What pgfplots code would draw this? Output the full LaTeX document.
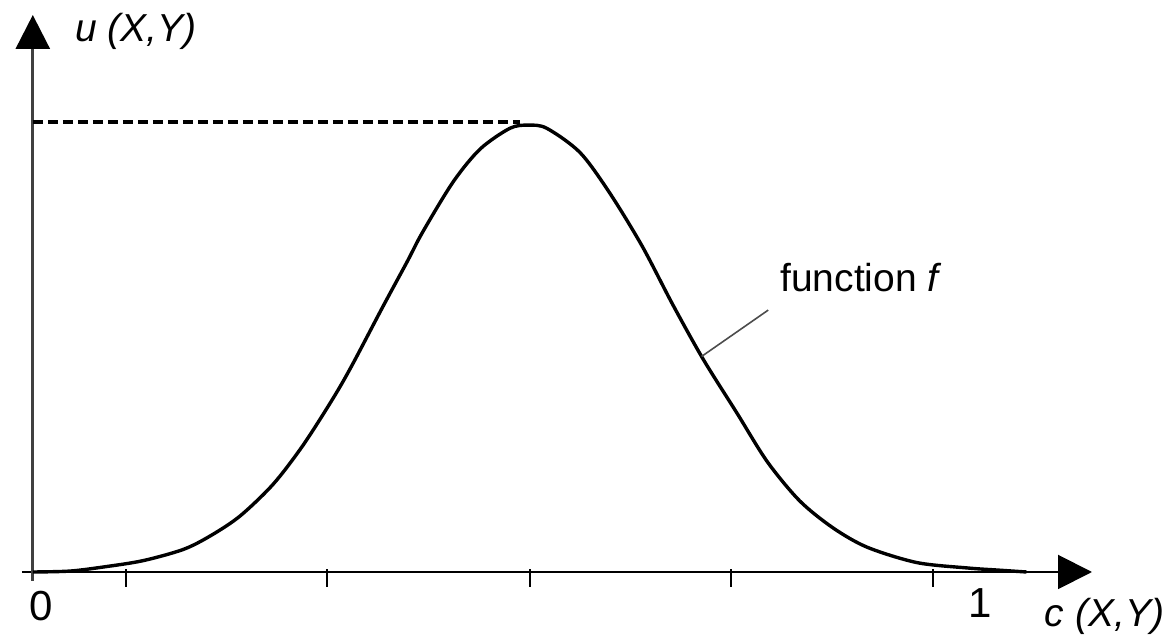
\documentclass[border=0pt]{standalone}
\usepackage{fontspec}
\setmainfont{Liberation Sans}
\usepackage{pgfplots}
\pgfplotsset{compat=1.18}
\usetikzlibrary{arrows.meta}

\begin{document}
\begin{tikzpicture}
\begin{axis}[
  scale only axis,
  width=535pt, height=283pt,
  xmin=-0.012, xmax=1.1767,
  ymin=-0.02, ymax=1.2378,
  axis lines=middle,
  enlargelimits=false,
  clip=false,
  xtick={0.103,0.327,0.552,0.776,1.0},
  xticklabels={},
  ytick=\empty,
  xtick align=center,
  major tick length=9pt,
  xtick style={line width=1pt, black, yshift=-3pt},
  x axis line style={line width=1pt, black, -{Triangle[length=17pt,width=17pt]}},
  y axis line style={line width=1.4pt, black!75, -{Triangle[length=17pt,width=17pt,fill=black,color=black]}},
]
  % bell-shaped membership function f
  \addplot [black, line width=1.7pt, smooth, tension=0.5] coordinates {
    (0,0) (0.041,0.002) (0.078,0.011) (0.122,0.025) (0.167,0.050)
    (0.197,0.080) (0.230,0.124) (0.267,0.195) (0.300,0.281)
    (0.333,0.384) (0.354,0.457) (0.389,0.590) (0.416,0.690)
    (0.433,0.755) (0.467,0.867) (0.497,0.940) (0.530,0.986)
    (0.550,0.993) (0.571,0.986) (0.608,0.932) (0.641,0.842)
    (0.677,0.724) (0.711,0.594) (0.745,0.472) (0.782,0.354)
    (0.816,0.245) (0.852,0.158) (0.889,0.098) (0.927,0.055)
    (0.982,0.021) (1.038,0.009) (1.074,0.004) (1.104,0.0)
  };
  % level of the maximum
  \addplot [black, line width=1.8pt, dash pattern=on 5pt off 2.5pt] coordinates {(0,1) (0.541,1)};
  % pointer to the curve
  \addplot [black!70, line width=0.8pt] coordinates {(0.743,0.479) (0.817,0.582)};

  \node[anchor=base west, font=\fontsize{19.5pt}{22pt}\selectfont, inner sep=0pt]
    at (axis cs:0.83,0.624) {function \textit{f}};
  \node[anchor=base west, font=\fontsize{19.5pt}{22pt}\selectfont\itshape, inner sep=0pt]
    at (axis cs:0.047,1.18) {u (X,Y)};
  \node[anchor=base west, font=\fontsize{19.5pt}{22pt}\selectfont\itshape, inner sep=0pt]
    at (axis cs:1.124,-0.122) {c (X,Y)};
  \node[anchor=base, font=\fontsize{21pt}{24pt}\selectfont, inner sep=0pt]
    at (axis cs:0.0094,-0.107) {0};
  \node[anchor=base, font=\fontsize{21pt}{24pt}\selectfont, inner sep=0pt]
    at (axis cs:1.052,-0.102) {1};

  \coordinate (BL) at (rel axis cs:0,0);
  \coordinate (TR) at (rel axis cs:1,1);
\end{axis}
\pgfresetboundingbox
\path ([shift={(-11pt,-28pt)}]BL) rectangle ([shift={(36pt,7.5pt)}]TR);
\end{tikzpicture}
\end{document}
